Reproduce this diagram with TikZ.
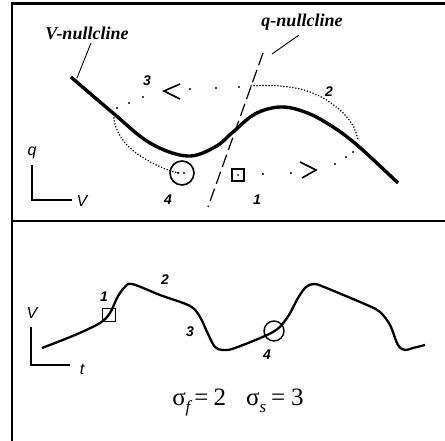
\documentclass[tikz,border=0pt]{standalone}
\usepackage{fontspec}
\setmainfont{Liberation Serif}
\newfontfamily\lblsans{Liberation Sans}
\begin{document}
\begin{tikzpicture}[x=1pt,y=-1pt,
  frameline/.style={line width=2.2pt},
  nullc/.style={line width=3.4pt},
  trace/.style={line width=2.3pt},
  thinline/.style={line width=0.9pt},
  qnull/.style={line width=1.2pt,dash pattern=on 13pt off 5pt},
  densedot/.style={line width=1.7pt,line cap=round,dash pattern=on 0pt off 3pt},
  sdot/.style={circle,fill=black,inner sep=0pt,minimum size=2.4pt},
  nlbl/.style={font=\lblsans\bfseries\itshape\fontsize{14}{14}\selectfont,inner sep=1pt},
  axlbl/.style={font=\lblsans\itshape\fontsize{16}{16}\selectfont,inner sep=1pt},
  nctext/.style={font=\bfseries\itshape\fontsize{18}{18}\selectfont,inner sep=1pt},
  dirmark/.style={line width=1.6pt}
]
\useasboundingbox (0,0) rectangle (445,441);
% frame
\draw[line width=3pt] (11,4) -- (445,4);
\draw[frameline] (12,3) -- (12,441);
\draw[frameline] (12,221) -- (445,221);

% ===== top panel =====
\coordinate (qtop) at (32,165);
\coordinate (qorig) at (32,200);
\coordinate (qright) at (72,200);
\draw[frameline] (qtop) -- (qorig) -- (qright);
\node[axlbl] (lq) at (32,153) {q};
\node[axlbl] (lV) at (82,201) {V};

% V-nullcline
\draw[nullc] plot[smooth,tension=0.6] coordinates {(71,77) (113,113) (150,143) (187,156) (215,147) (233,132) (255,114) (280,107) (305,112) (330,125) (357,145) (398,183)};
\coordinate (vnend) at (77,78);
\node[nctext] (vnlbl) at (87,33) {V-nullcline};
\draw[thinline] (91,43) -- (vnend);

% q-nullcline
\coordinate (qna) at (263,53);
\coordinate (qnb) at (208,207);
\draw[qnull] (qna) -- (qnb);
\node[nctext] (qnlbl) at (302,22) {q-nullcline};
\draw[thinline] (299,35) -- (272,54);

% dense dotted segments of trajectory
\draw[densedot] plot[smooth,tension=0.7] coordinates {(251,86) (280,86) (310,92) (335,106) (352,124) (358,141)};
\draw[densedot] plot[smooth,tension=0.7] coordinates {(114,118) (117,130) (128,146) (147,160) (168,170) (180,173)};

% sparse dots
\foreach \p [count=\i] in {(143,97),(129,103),(117,108),(190,89),(216,88),(239,87),(353,152),(346,157),(335,164),(291,173),(263,174),(178,173),(184,173)}
  \node[sdot] (sd\i) at \p {};

% direction marks
\draw[dirmark] (180,84) -- (164,91) -- (180,99);
\draw[dirmark] (300,162) -- (316,170) -- (302,178);

% markers
\node[draw,line width=1.6pt,circle,minimum size=24pt,inner sep=0pt] (c4) at (182,173) {};
\node[draw,line width=1.6pt,minimum size=12pt,inner sep=0pt] (s1) at (238,175) {};
\node[sdot,minimum size=2pt] (s1dot) at (238,175) {};

% labels
\node[nlbl] (n3) at (147,81) {3};
\node[nlbl] (n2) at (329,92) {2};
\node[nlbl] (n4) at (168,200) {4};
\node[nlbl] (n1) at (257,200) {1};

% ===== bottom panel =====
\coordinate (vtop) at (31,327);
\coordinate (vorig) at (31,365);
\coordinate (vright) at (70,365);
\draw[line width=1.4pt] (vtop) -- (vorig) -- (vright);
\node[axlbl] (lV2) at (32,313) {V};
\node[axlbl] (lt) at (82,369) {t};

\draw[trace] plot[smooth,tension=0.55] coordinates {(42,348) (75,335) (100,323) (110,313) (117,298) (124,288) (132,284) (160,295) (190,306) (200,317) (208,334) (215,347) (223,350) (235,348) (273,332) (287,318) (298,298) (306,287) (314,284) (324,287) (367,305) (380,312) (390,325) (398,345) (405,350) (413,348) (425,345)};

\node[draw,line width=1.4pt,minimum size=13pt,inner sep=0pt] (s1b) at (109,315) {};
\node[draw,line width=1.4pt,circle,minimum size=20pt,inner sep=0pt] (c4b) at (274,331) {};

\node[nlbl] (b1) at (104,297) {1};
\node[nlbl] (b2) at (165,280) {2};
\node[nlbl] (b3) at (190,332) {3};
\node[nlbl] (b4) at (267,355) {4};

\node[anchor=base,inner sep=0pt,font=\fontsize{25}{25}\selectfont] (formula) at (238,405)
  {σ\raisebox{-0.3em}{\itshape\fontsize{17}{17}\selectfont f}\kern4pt=\kern5pt2\hspace{20pt}σ\raisebox{-0.3em}{\itshape\fontsize{17}{17}\selectfont s}\kern5pt=\kern6pt3};
\end{tikzpicture}
\end{document}
